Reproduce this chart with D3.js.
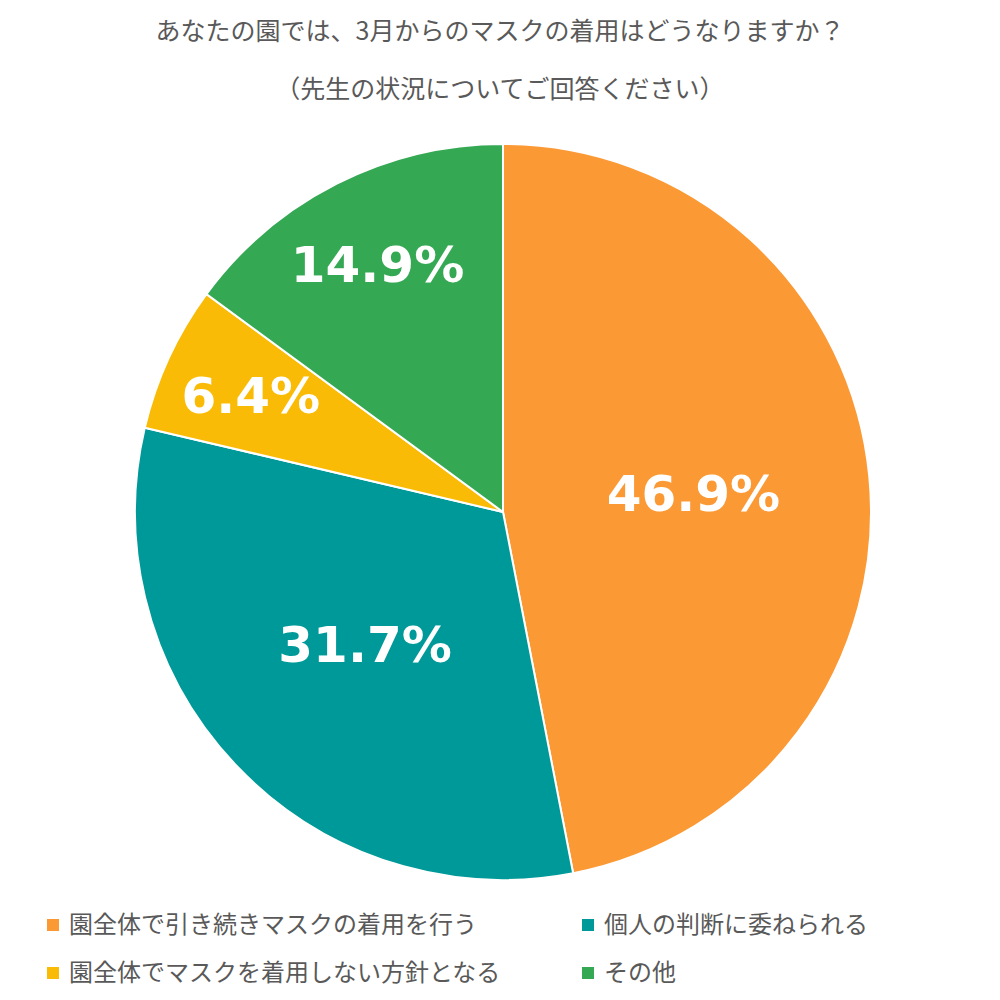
<!DOCTYPE html>
<html><head><meta charset="utf-8">
<script src="https://cdn.jsdelivr.net/npm/d3@7"></script>
<style>body{margin:0;background:#fff}</style>
</head><body>
<script>
var categories = ['園全体で引き続きマスクの着用を行う', '個人の判断に委ねられる', '園全体でマスクを着用しない方針となる', 'その他'],
    values = [46.9, 31.7, 6.4, 14.9],
    colors = ['#fb9935', '#009999', '#f9bb05', '#35a853'],
    titleLines = ['あなたの園では、3月からのマスクの着用はどうなりますか？', '（先生の状況についてご回答ください）'];

var font = '"Noto Sans CJK JP", "Noto Sans", sans-serif',
    cx = 503, cy = 512, radius = 368;

var svg = d3.select('body').append('svg')
    .attr('width', 1000)
    .attr('height', 1000);

// Title
svg.selectAll('text.title')
    .data(titleLines)
    .enter().append('text')
    .attr('class', 'title')
    .attr('x', 500)
    .attr('y', function (d, i) { return 40 + i * 58; })
    .attr('text-anchor', 'middle')
    .attr('font-family', font)
    .attr('font-size', '25px')
    .attr('fill', '#595959')
    .text(function (d) { return d; });

var pie = d3.pie().sort(null).value(function (d) { return d; });
var arcs = pie(values);
var arc = d3.arc().innerRadius(0).outerRadius(radius);

var g = svg.append('g').attr('transform', 'translate(' + cx + ',' + cy + ')');

g.selectAll('path')
    .data(arcs)
    .enter().append('path')
    .attr('d', arc)
    .attr('fill', function (d, i) { return colors[i]; })
    .attr('stroke', '#fff')
    .attr('stroke-width', 2);

// Small slices get their labels pushed outward.
g.selectAll('text.label')
    .data(arcs)
    .enter().append('text')
    .attr('class', 'label')
    .attr('transform', function (d) {
        var r = radius * (d.value < 20 ? 0.755 : 0.52),
            a = (d.startAngle + d.endAngle) / 2;
        return 'translate(' + (Math.sin(a) * r) + ',' + (-Math.cos(a) * r) + ')';
    })
    .attr('text-anchor', 'middle')
    .attr('dy', '0.35em')
    .attr('font-family', 'Verdana, "DejaVu Sans", sans-serif')
    .attr('font-weight', 'bold')
    .attr('font-size', '50px')
    .attr('fill', '#fff')
    .text(function (d) { return d.value.toFixed(1) + '%'; });

// Legend
var legend = svg.selectAll('g.legend')
    .data(categories)
    .enter().append('g')
    .attr('class', 'legend')
    .attr('transform', function (d, i) {
        return 'translate(' + (i % 2 ? 582 : 47) + ',' + (925 + Math.floor(i / 2) * 48) + ')';
    });

legend.append('rect')
    .attr('x', 0).attr('y', -6)
    .attr('width', 12).attr('height', 12)
    .attr('fill', function (d, i) { return colors[i]; });

legend.append('text')
    .attr('x', 22)
    .attr('dy', '0.35em')
    .attr('font-family', font)
    .attr('font-size', '24px')
    .attr('fill', '#595959')
    .text(function (d) { return d; });
</script>
</body></html>
